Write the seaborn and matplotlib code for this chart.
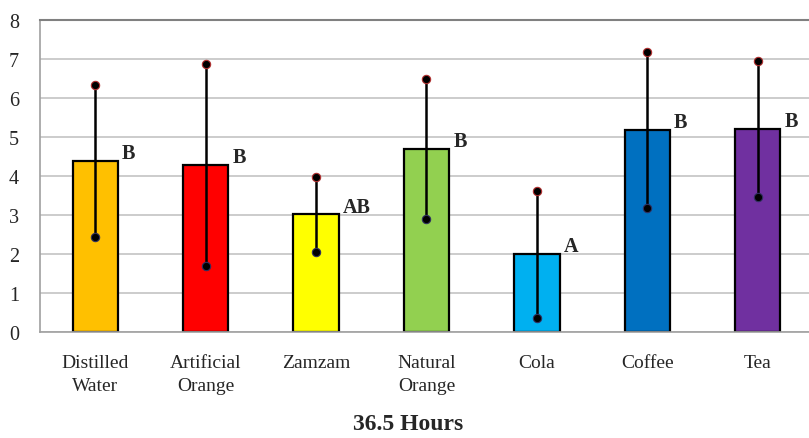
import numpy as np
import matplotlib
matplotlib.use("Agg")
import matplotlib.pyplot as plt
import seaborn as sns
from matplotlib.ticker import FixedLocator

drinks = ["Distilled\nWater", "Artificial\nOrange", "Zamzam", "Natural\nOrange", "Cola", "Coffee", "Tea"]
means = np.array([4.38, 4.28, 3.01, 4.68, 1.99, 5.18, 5.20])
errs = np.array([1.95, 2.59, 0.95, 1.79, 1.63, 2.00, 1.73])
letters = ["B", "B", "AB", "B", "A", "B", "B"]
colors = ["#FFC000", "#FF0000", "#FFFF00", "#92D050", "#00B0F0", "#0070C0", "#7030A0"]

sns.set_style("white")
plt.rcParams["font.family"] = ["Liberation Serif", "DejaVu Serif"]

fig = plt.figure(figsize=(8.09, 4.39), dpi=100)
ax = fig.add_axes([0.0494, 0.2415, 0.9555, 0.7115])

sns.barplot(x=drinks, y=means, hue=drinks, palette=colors, legend=False, saturation=1,
            edgecolor="black", linewidth=1.6, width=0.41, ax=ax, zorder=2)

pos = np.arange(len(drinks))
ax.errorbar(pos, means, yerr=errs, fmt="none", ecolor="black", elinewidth=1.8, capsize=0, zorder=3)
ax.plot(pos, means + errs, "o", color="black", mec="#B03030", mew=0.8, ms=6, zorder=4)
ax.plot(pos, means - errs, "o", color="black", mec="#303060", mew=0.8, ms=6, zorder=4)

for i, (m, lab) in enumerate(zip(means, letters)):
    ax.annotate(lab, xy=(i + 0.205, m), xytext=(3, -1.5), textcoords="offset points",
                ha="left", va="bottom", fontsize=14.5, fontweight="bold")

ax.set_ylim(0, 8)
ax.set_xlim(-0.5, 6.5)
ax.set_yticks(range(0, 9))
ax.yaxis.grid(True, color="#C8C8C8", linewidth=1.3)
ax.set_axisbelow(True)

ax.tick_params(axis="y", length=7, color="#A0A0A0", labelsize=14.5, pad=8)
ax.tick_params(axis="x", which="major", length=0, labelsize=14, pad=16)
ax.xaxis.set_minor_locator(FixedLocator(np.arange(-0.5, 7, 1)))
ax.tick_params(axis="x", which="minor", length=7, color="#A0A0A0", width=1.2, direction="out")
for t in ax.get_xticklabels():
    t.set_linespacing(1.45)

for s in ["left", "bottom"]:
    ax.spines[s].set_color("#A0A0A0")
    ax.spines[s].set_linewidth(1.2)
ax.spines["top"].set_color("#808080")
ax.spines["top"].set_linewidth(1.5)
ax.spines["right"].set_visible(False)
ax.set_xlabel("")
ax.set_ylabel("")

fig.text(0.505, 0.008, "36.5 Hours", ha="center", va="bottom", fontsize=17, fontweight="bold")

fig.savefig("out.png", dpi=100)
